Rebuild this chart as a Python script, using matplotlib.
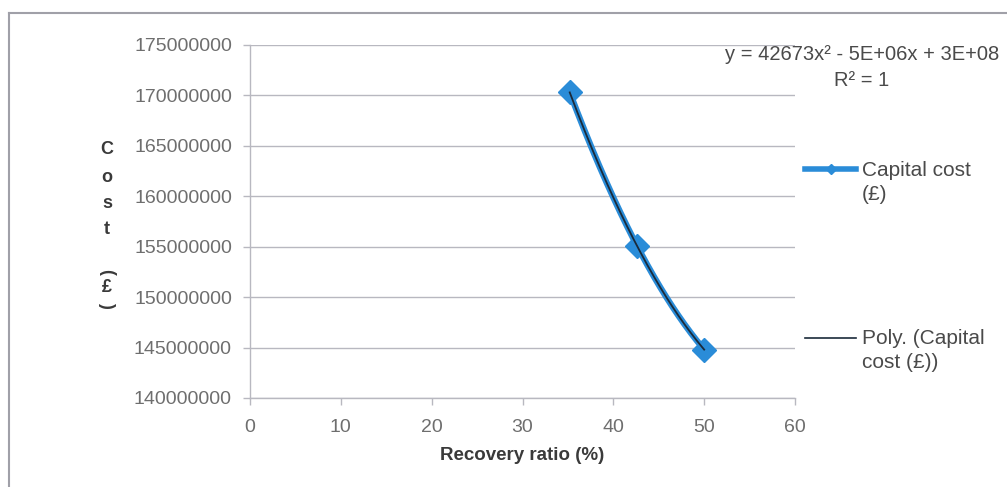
import numpy as np
import matplotlib
matplotlib.use("Agg")
import matplotlib.pyplot as plt
from matplotlib.lines import Line2D

# Data
recovery_ratio = [35.2, 42.6, 50.0]
capital_cost = [170300000, 155100000, 144800000]
x_ticks = [0, 10, 20, 30, 40, 50, 60]
y_ticks = [140000000, 145000000, 150000000, 155000000, 160000000,
           165000000, 170000000, 175000000]
equation_text = "y = 42673x\u00b2 - 5E+06x + 3E+08"
r2_text = "R\u00b2 = 1"
series_label = ["Capital cost", "(\u00a3)"]
trend_label = ["Poly. (Capital", "cost (\u00a3))"]

plt.rcParams['font.family'] = ['Liberation Sans', 'DejaVu Sans']

W, H = 1007, 487
fig = plt.figure(figsize=(W / 100, H / 100), dpi=100)
fig.patch.set_facecolor('white')

def fx(px):
    return px / W

def fy(py):
    return 1 - py / H

ax = fig.add_axes([fx(250), fy(398), fx(795) - fx(250), fy(45) - fy(398)])

blue = '#2a8cd8'
tick_col = '#6e6e6e'
grid_col = '#b8b8c0'
txt_col = '#4a4a4a'

# smoothed series line (Excel smooth line through the 3 points)
coef = np.polyfit(recovery_ratio, capital_cost, 2)
xs = np.linspace(min(recovery_ratio), max(recovery_ratio), 200)
ax.plot(xs, np.polyval(coef, xs), color=blue, lw=4.5,
        solid_capstyle='round', zorder=3)
ax.plot(recovery_ratio, capital_cost, linestyle='none', marker='D',
        markersize=12, markeredgecolor=blue, markerfacecolor=blue, zorder=3)
# polynomial trendline
ax.plot(xs, np.polyval(coef, xs), color='#1a2a3a', lw=1.3, zorder=4)

ax.set_xlim(x_ticks[0], x_ticks[-1])
ax.set_ylim(y_ticks[0], y_ticks[-1])
ax.set_xticks(x_ticks)
ax.set_yticks(y_ticks)
ax.set_xticklabels([str(t) for t in x_ticks])
ax.set_yticklabels([str(t) for t in y_ticks])
ax.tick_params(axis='both', colors=grid_col, labelcolor=tick_col,
               labelsize=14, length=5, direction='out', width=1)
ax.tick_params(axis='x', pad=10)
ax.tick_params(axis='y', pad=8)
ax.grid(axis='y', color=grid_col, lw=1)
ax.set_axisbelow(True)
for s in ['top', 'right']:
    ax.spines[s].set_visible(False)
for s in ['left', 'bottom']:
    ax.spines[s].set_color(grid_col)
    ax.spines[s].set_linewidth(1)

ax.set_xlabel("Recovery ratio (%)", fontsize=13.5, fontweight='bold',
              color='#3a3a3a', labelpad=8)

# stacked y-axis label
lab_col = '#3a3a3a'
for ch, py, rot in [("C", 149, 0), ("o", 177, 0), ("s", 204, 0), ("t", 230, 0),
                    ("(", 272, -90), ("\u00a3", 288, 0), (")", 305, -90)]:
    fig.text(fx(107), fy(py), ch, ha='center', va='center', fontsize=13,
             fontweight='bold', color=lab_col, rotation=rot)

# trendline equation
fig.text(fx(862), fy(54), equation_text, ha='center', va='center',
         fontsize=14.5, color=txt_col)
fig.text(fx(862), fy(80), r2_text, ha='center', va='center',
         fontsize=14.5, color=txt_col)

# legend
lx0, lx1 = fx(805), fx(856)
ly1 = fy(169)
fig.add_artist(Line2D([lx0, lx1], [ly1, ly1], color=blue, lw=4,
                      transform=fig.transFigure))
fig.add_artist(Line2D([(lx0 + lx1) / 2], [ly1], color=blue, marker='D',
                      markersize=5, transform=fig.transFigure))
fig.text(fx(862), fy(170), series_label[0], ha='left', va='center',
         fontsize=15, color=txt_col)
fig.text(fx(862), fy(194), series_label[1], ha='left', va='center',
         fontsize=15, color=txt_col)
ly2 = fy(338)
fig.add_artist(Line2D([lx0, lx1], [ly2, ly2], color='#1a2a3a', lw=1.2,
                      transform=fig.transFigure))
fig.text(fx(862), fy(339), trend_label[0], ha='left', va='center',
         fontsize=15, color=txt_col)
fig.text(fx(862), fy(362), trend_label[1], ha='left', va='center',
         fontsize=15, color=txt_col)

# chart border (top and left visible)
bcol = '#a0a0a8'
fig.add_artist(Line2D([fx(9), 1.0], [fy(13), fy(13)], color=bcol, lw=1.5,
                      transform=fig.transFigure))
fig.add_artist(Line2D([fx(9), fx(9)], [fy(13), 0.0], color=bcol, lw=1.5,
                      transform=fig.transFigure))

fig.savefig("out.png", dpi=100, facecolor='white')
